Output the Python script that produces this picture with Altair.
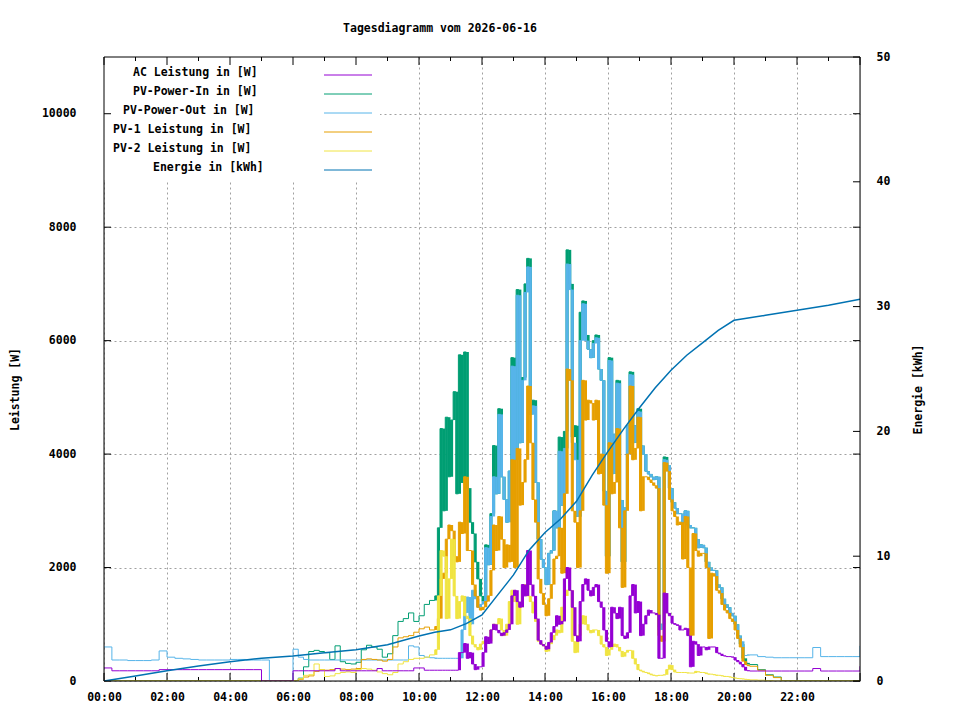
import altair as alt
import pandas as pd

FONT = "DejaVu Sans Mono"
FS = 11.5

# ---------------- time grid (sampling instants, "HH:MM") ----------------
def grid(a, b, step):
    return [f"{m // 60:02d}:{m % 60:02d}" for m in range(a, b + 1, step)]

T_NIGHT = grid(0, 345, 15)      # 00:00 .. 05:45
T_MORNING = grid(360, 620, 10)  # 06:00 .. 10:20
T_DAY = grid(630, 1225, 5)      # 10:30 .. 20:25
T_EVENING = grid(1230, 1440, 15)  # 20:30 .. 24:00
TIMES = T_NIGHT + T_MORNING + T_DAY + T_EVENING

# ---------------- AC Leistung [W] ----------------
AC_NIGHT = [230, 180, 180, 180, 180, 180, 180, 200, 200, 200, 200, 200,
            200, 200, 200, 200, 200, 200, 200, 200, 0, 0, 0, 0]
AC_MORNING = [180, 180, 180, 180, 180, 180, 180, 180, 220, 180, 180, 180, 180, 180,
              180, 180, 220, 180, 180, 180, 180, 180, 180, 230, 230, 190, 190]
AC_DAY = [
    190, 190, 190, 190, 190, 190,
    190, 190, 190, 500, 500, 660, 400, 500, 300, 200, 250, 250,
    500, 780, 660, 900, 1000, 900, 850, 800, 850, 900, 1000, 1500,
    1600, 1400, 1300, 1700, 1500, 2300, 1700, 1500, 1100, 720, 650, 620,
    560, 680, 850, 960, 1150, 1000, 1050, 1800, 2000, 1600, 1300, 800,
    700, 1400, 1700, 1800, 1600, 1500, 1650, 1700, 1400, 1300, 900, 700,
    600, 1300, 1200, 1100, 1300, 800, 750, 850, 1500, 1700, 1200, 1400,
    800, 1000, 1150, 1250, 1200, 1200, 1170, 400, 400, 1550, 1200, 1150,
    1020, 1000, 980, 900, 900, 930, 800, 250, 700, 650, 450, 600,
    600, 550, 600, 600, 600, 500, 480, 450, 440, 430, 430, 420,
    370, 340, 300, 250, 190, 180,
]
AC_EVENING = [176, 176, 176, 176, 176, 176, 176, 176, 220, 176, 176, 176, 176, 176, 260]

# ---------------- PV-Power-In [W] ----------------
PVIN_NIGHT = [0] * 24
PVIN_MORNING = [0, 50, 250, 520, 540, 520, 500, 380, 620, 340, 310, 300, 330, 550,
                630, 600, 560, 420, 480, 800, 1050, 1100, 1200, 1050, 1150, 1350, 1420]
PVIN_DAY = [
    1500, 2700, 4450, 3000, 4650, 3600,
    4600, 5100, 3300, 5750, 3500, 5800, 3400, 2800, 2600, 2100, 1800, 1500,
    1400, 2400, 2050, 2950, 4150, 3300, 4800, 3600, 3200, 2800, 3700, 5700,
    3900, 6900, 4200, 5350, 7000, 7450, 4700, 4950, 3500, 2500, 2150, 2000,
    1700, 2250, 2300, 3000, 2700, 4300, 3100, 4400, 7600, 7000, 4300, 4500,
    2900, 6500, 6700, 6100, 5850, 5700, 6000, 6100, 5500, 5300, 3350, 2200,
    5700, 3650, 4350, 5300, 3190, 2100, 3050, 4500, 5450, 4200, 4500, 4800,
    4150, 4000, 3700, 3650, 3600, 3550, 3600, 950, 1000, 3950, 3800, 3400,
    3150, 3050, 2950, 2950, 2800, 3000, 2750, 2700, 2700, 2500, 2350, 2400,
    2350, 2100, 2000, 1950, 1950, 1700, 1650, 1450, 1350, 1300, 1200, 1150,
    1000, 800, 650, 400, 320, 300,
]
PVIN_EVENING = [290, 200, 110, 70, 0, 0, 0, 0, 0, 0, 0, 0, 0, 0, 0]

# ---------------- PV-Power-Out [W] ----------------
PVOUT_NIGHT = [600, 370, 370, 360, 360, 360, 370, 530, 420, 400, 390, 380,
               370, 370, 370, 370, 380, 380, 370, 370, 370, 0, 0, 0]
PVOUT_MORNING = [560, 420, 380, 370, 370, 370, 370, 370, 370, 370, 370, 370, 370, 370,
                 370, 370, 370, 370, 370, 370, 370, 370, 620, 600, 450, 420, 410]
PVOUT_DAY = [
    400, 400, 400, 400, 400, 400,
    400, 400, 400, 400, 900, 1200, 1480, 1000, 1600, 1450, 1300, 1350,
    1400, 2350, 2050, 2900, 3600, 3300, 4700, 3600, 3200, 2800, 3700, 5550,
    3900, 6800, 4200, 5300, 6850, 7300, 4700, 4850, 3500, 2500, 2150, 2000,
    1700, 2250, 2300, 3000, 2700, 4050, 3100, 4100, 7350, 6900, 4200, 3900,
    2900, 6000, 6650, 6000, 5850, 5700, 5950, 6050, 5500, 5300, 3350, 2200,
    5650, 3650, 4350, 5250, 3190, 2100, 3050, 4500, 5400, 4200, 4500, 4750,
    4150, 4000, 3700, 3650, 3600, 3550, 3600, 900, 1000, 3900, 3800, 3400,
    3150, 3050, 2950, 2950, 2800, 3000, 2750, 2700, 2700, 2500, 2350, 2400,
    2350, 2100, 2000, 1950, 1950, 1700, 1650, 1450, 1350, 1300, 1200, 1150,
    1000, 800, 700, 450, 450, 460,
]
PVOUT_EVENING = [460, 430, 420, 410, 410, 410, 410, 410, 590, 430, 430, 430, 430, 430, 620]

# ---------------- PV-1 Leistung [W] ----------------
PV1_NIGHT = [0] * 24
PV1_MORNING = [0, 30, 70, 90, 170, 200, 190, 200, 220, 210, 200, 210, 220, 380,
               390, 380, 370, 350, 380, 600, 760, 780, 800, 860, 920, 950, 900]
PV1_DAY = [
    960, 1100, 1800, 1900, 2500, 2750,
    2650, 2200, 2100, 2800, 2600, 3600, 2300, 2300, 1700, 1500, 1300, 1250,
    1300, 1400, 1500, 1950, 2750, 2300, 2900, 2500, 2000, 2400, 2100, 3900,
    2000, 4100, 3100, 3500, 3900, 5200, 4200, 3200, 2800, 1800, 1550, 1350,
    1150, 1450, 1700, 2150, 2200, 2700, 1900, 3300, 5500, 5300, 3000, 2800,
    2000, 3000, 5300, 4600, 4950, 4900, 4600, 4950, 3650, 4000, 3100, 1900,
    4200, 3300, 3500, 4450, 2700, 1650, 3000, 4000, 5200, 3900, 4100, 4650,
    3000, 3600, 3600, 3550, 3500, 3450, 3400, 800, 700, 3850, 3700, 3200,
    3000, 2900, 2750, 2800, 2150, 2900, 2000, 800, 2600, 2300, 2200, 2250,
    2250, 2000, 750, 1900, 1850, 1600, 1550, 1350, 1250, 1200, 1100, 1050,
    900, 750, 600, 350, 290, 270,
]
PV1_EVENING = [260, 190, 100, 60, 0, 0, 0, 0, 0, 0, 0, 0, 0, 0, 0]

# ---------------- PV-2 Leistung [W] ----------------
PV2_NIGHT = [0] * 24
PV2_MORNING = [0, 40, 100, 110, 300, 200, 80, 90, 130, 150, 160, 150, 200, 220,
               210, 190, 160, 130, 110, 150, 300, 340, 380, 400, 400, 420, 460]
PV2_DAY = [
    550, 1500, 2300, 2200, 1100, 1800,
    2500, 1500, 1100, 1400, 1500, 1150, 1100, 800, 650, 600, 550, 650,
    700, 720, 700, 900, 1000, 1000, 1100, 900, 800, 1000, 1400, 1600,
    1400, 1000, 1300, 1600, 1700, 1500, 1400, 1200, 1050, 700, 650, 620,
    520, 650, 720, 800, 900, 850, 1300, 1500, 1600, 1600, 700, 500,
    800, 1000, 1150, 1000, 900, 850, 900, 900, 800, 650, 600, 450,
    550, 600, 650, 600, 530, 430, 500, 540, 540, 400, 300, 200,
    180, 160, 150, 130, 110, 100, 90, 100, 100, 110, 200, 280,
    200, 160, 150, 150, 150, 150, 140, 140, 140, 170, 160, 150,
    150, 130, 120, 120, 110, 100, 100, 90, 80, 80, 70, 60,
    50, 45, 40, 35, 30, 25,
]
PV2_EVENING = [20, 15, 5, 0, 0, 0, 0, 0, 0, 0, 0, 0, 0, 0, 0]

# ---------------- Energie [kWh] ----------------
E_TIMES = ["00:00", "00:30", "01:00", "02:00", "03:00", "04:00", "05:00", "06:00",
           "07:00", "08:00", "09:00", "10:00", "10:30", "11:00", "11:30", "12:00",
           "12:30", "13:00", "13:30", "14:00", "14:30", "15:00", "15:30", "16:00",
           "16:30", "17:00", "17:30", "18:00", "18:30", "19:00", "19:30", "20:00",
           "20:30", "21:00", "22:00", "23:00", "24:00"]
E_VALUES = [0.0, 0.2, 0.4, 0.83, 1.2, 1.55, 1.83, 2.0, 2.27, 2.5, 2.9, 3.6, 3.9, 4.1,
            4.6, 5.3, 6.9, 8.5, 10.5, 11.9, 13.0, 14.4, 16.5, 18.4, 20.2, 21.9, 23.5,
            24.9, 26.1, 27.1, 28.1, 28.9, 29.1, 29.3, 29.7, 30.1, 30.6]

# ---------------- axes / legend definitions ----------------
X_TICKS_MAJOR = [0, 2, 4, 6, 8, 10, 12, 14, 16, 18, 20, 22, 24]
X_TICKS_MINOR = [1, 3, 5, 7, 9, 11, 13, 15, 17, 19, 21, 23]
W_TICKS = [0, 2000, 4000, 6000, 8000, 10000]
E_TICKS = [0, 10, 20, 30, 40, 50]

LEGEND_NAMES = ["AC Leistung in [W]", "PV-Power-In in [W]", "PV-Power-Out in [W]",
                "PV-1 Leistung in [W]", "PV-2 Leistung in [W]", "Energie in [kWh]"]
C_AC, C_IN, C_OUT, C_PV1, C_PV2, C_E = ("#9400D3", "#009E73", "#56B4E9",
                                        "#E69F00", "#F0E442", "#0072B2")
LEGEND_COLORS = [C_AC, C_IN, C_OUT, C_PV1, C_PV2, C_E]


def hours(t):
    h, m = t.split(":")
    return int(h) + int(m) / 60.0


AC = AC_NIGHT + AC_MORNING + AC_DAY + AC_EVENING
PVIN = PVIN_NIGHT + PVIN_MORNING + PVIN_DAY + PVIN_EVENING
PVOUT = PVOUT_NIGHT + PVOUT_MORNING + PVOUT_DAY + PVOUT_EVENING
PV1 = PV1_NIGHT + PV1_MORNING + PV1_DAY + PV1_EVENING
PV2 = PV2_NIGHT + PV2_MORNING + PV2_DAY + PV2_EVENING
for arr in (AC, PVIN, PVOUT, PV1, PV2):
    assert len(arr) == len(TIMES), (len(arr), len(TIMES))

df = pd.DataFrame({"h": [hours(t) for t in TIMES], "AC": AC, "PVIN": PVIN,
                   "PVOUT": PVOUT, "PV1": PV1, "PV2": PV2})
edf = pd.DataFrame({"h": [hours(t) for t in E_TIMES], "E": E_VALUES})
one = pd.DataFrame({"k": [0]})

W, H = 756, 624

xscale = alt.Scale(domain=[0, 24], nice=False, zero=False)
xaxis = alt.Axis(values=list(range(0, 24, 2)),
                 labelExpr="(datum.value < 10 ? '0' : '') + datum.value + ':00'",
                 title=None, grid=True, gridDash=[2, 3], gridColor="#a0a0a0",
                 ticks=False, tickSize=0, domain=False, labelPadding=10,
                 labelFlush=False, labelFont=FONT, labelFontSize=FS,
                 labelFontWeight="bold", labelColor="black")
X = alt.X("h:Q", scale=xscale, axis=xaxis)

yscale = alt.Scale(domain=[0, 11000], nice=False, zero=True)
yaxis = alt.Axis(values=W_TICKS, format="d", title="Leistung [W]", titleX=-89,
                 titleY=332, titleAngle=270, titleAlign="center",
                 titleBaseline="middle", titleFont=FONT, titleFontSize=FS,
                 titleFontWeight="bold", titleColor="black", grid=True,
                 gridDash=[2, 3], gridColor="#a0a0a0", ticks=False, tickSize=0,
                 domain=False, labelPadding=28, labelFont=FONT, labelFontSize=FS,
                 labelFontWeight="bold", labelColor="black")

escale = alt.Scale(domain=[0, 50], nice=False, zero=True)
eaxis = alt.Axis(orient="right", values=E_TICKS, title="Energie [kWh]", titleX=58,
                 titleY=332, titleAngle=270, titleAlign="center",
                 titleBaseline="middle", titleFont=FONT, titleFontSize=FS,
                 titleFontWeight="bold", titleColor="black", grid=False,
                 ticks=False, tickSize=0, domain=False, labelPadding=16,
                 labelFont=FONT, labelFontSize=FS, labelFontWeight="bold",
                 labelColor="black")

DENSE_FROM, DENSE_TO = 10.5, 20.5   # span with minute-by-minute fluctuation


def series(field, color):
    """Dense minute data look during the day: fill each slot between the previous
    and the current reading, then draw the stepped line on top."""
    fill = alt.Chart(df).transform_window(
        window=[alt.WindowFieldDef(op="lag", field=field, **{"as": "prev"}),
                alt.WindowFieldDef(op="lead", field="h", **{"as": "nxt"})],
        sort=[alt.SortField("h", order="ascending")],
        frame=[None, None],
    ).transform_filter(
        f"datum.prev != null && datum.nxt != null && datum.h >= {DENSE_FROM} && datum.h < {DENSE_TO}"
    ).mark_rect(color=color, clip=True).encode(
        x=X, x2=alt.X2("nxt:Q"),
        y=alt.Y("prev:Q", scale=yscale, axis=yaxis), y2=alt.Y2(f"{field}:Q"))
    line = alt.Chart(df).mark_line(color=color, strokeWidth=1,
                                   interpolate="step-after", clip=True).encode(
        x=X, y=alt.Y(f"{field}:Q", scale=yscale, axis=yaxis))
    return [fill, line]


xt_major = pd.DataFrame({"h": X_TICKS_MAJOR})
xt_minor = pd.DataFrame({"h": X_TICKS_MINOR})
wt = pd.DataFrame({"W": W_TICKS})
et = pd.DataFrame({"E": E_TICKS})

tick_layers = [
    alt.Chart(xt_major).mark_rule(color="black").encode(x=X, y=alt.value(H), y2=alt.value(H - 8)),
    alt.Chart(xt_major).mark_rule(color="black").encode(x=X, y=alt.value(0), y2=alt.value(8)),
    alt.Chart(xt_minor).mark_rule(color="black").encode(x=X, y=alt.value(H), y2=alt.value(H - 4)),
    alt.Chart(xt_minor).mark_rule(color="black").encode(x=X, y=alt.value(0), y2=alt.value(4)),
    alt.Chart(wt).mark_rule(color="black").encode(
        y=alt.Y("W:Q", scale=yscale, axis=yaxis), x=alt.value(0), x2=alt.value(7)),
    alt.Chart(wt).mark_rule(color="black").encode(
        y=alt.Y("W:Q", scale=yscale, axis=yaxis), x=alt.value(W - 7), x2=alt.value(W)),
]

power = alt.layer(
    *tick_layers,
    *series("PVIN", C_IN),
    *series("PVOUT", C_OUT),
    *series("PV1", C_PV1),
    *series("PV2", C_PV2),
    *series("AC", C_AC),
)

energy = alt.layer(
    alt.Chart(edf).mark_line(color=C_E, strokeWidth=1.5, clip=True).encode(
        x=X, y=alt.Y("E:Q", scale=escale, axis=eaxis)),
    alt.Chart(et).mark_rule(color="black").encode(
        y=alt.Y("E:Q", scale=escale, axis=eaxis), x=alt.value(W - 7), x2=alt.value(W)),
)

legend_box = alt.Chart(one).mark_rect(color="white").encode(
    x=alt.value(0), x2=alt.value(276), y=alt.value(0), y2=alt.value(123))

legend_layers = []
for i, (name, col) in enumerate(zip(LEGEND_NAMES, LEGEND_COLORS)):
    ty = 16 + 19 * i
    tx = 209 - 10 * len(name)
    legend_layers.append(
        alt.Chart(one).mark_text(text=name, align="left", baseline="middle", font=FONT,
                                 fontSize=FS, fontWeight="bold", color="black").encode(
            x=alt.value(tx), y=alt.value(ty)))
    legend_layers.append(
        alt.Chart(one).mark_rule(color=col, strokeWidth=1).encode(
            x=alt.value(220), x2=alt.value(268), y=alt.value(ty + 2)))

frame = [
    alt.Chart(one).mark_rule(color="black").encode(x=alt.value(0), x2=alt.value(W), y=alt.value(H)),
    alt.Chart(one).mark_rule(color="black").encode(x=alt.value(0), x2=alt.value(W), y=alt.value(0)),
    alt.Chart(one).mark_rule(color="black").encode(x=alt.value(0), y=alt.value(0), y2=alt.value(H)),
    alt.Chart(one).mark_rule(color="black").encode(x=alt.value(W), y=alt.value(0), y2=alt.value(H)),
]

chart = alt.layer(legend_box, power, energy, *legend_layers, *frame).resolve_scale(
    y="independent"
).properties(
    width=W, height=H,
    title=alt.TitleParams("Tagesdiagramm vom 2026-06-16", font=FONT, fontSize=FS,
                          fontWeight="bold", anchor="middle", frame="group", dx=-42,
                          offset=17, color="black"),
    autosize=alt.AutoSizeParams(type="none"),
    padding={"left": 96, "top": 49, "right": 92, "bottom": 31},
).configure_view(stroke="black", strokeWidth=1).configure(background="white")

chart.save("out.html", embed_options={"renderer": "svg", "actions": False})
